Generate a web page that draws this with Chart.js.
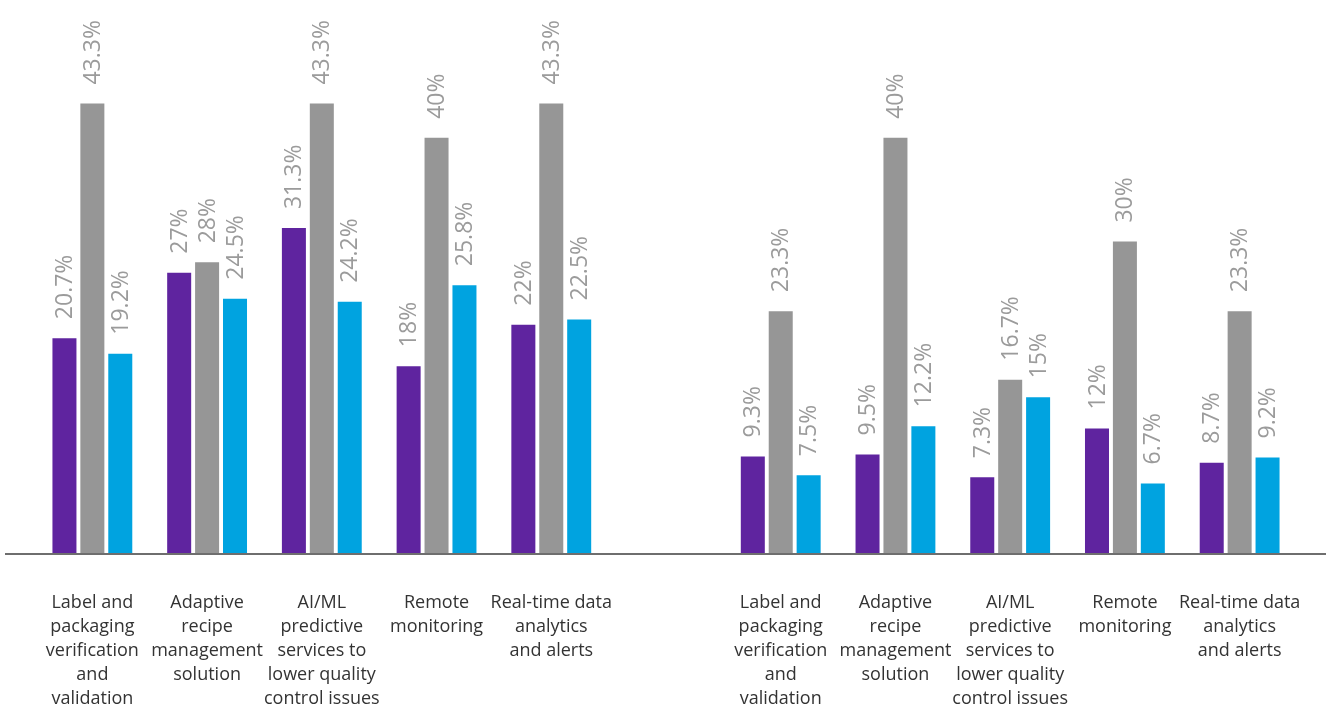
<!DOCTYPE html>
<html>
<head>
<meta charset="utf-8">
<script src="https://cdn.jsdelivr.net/npm/chart.js@4/dist/chart.umd.min.js"></script>
<style>
  html, body { margin: 0; padding: 0; background: #fff; }
  #wrap { width: 1330px; height: 707px; position: relative; }
</style>
</head>
<body>
<div id="wrap"><canvas id="surveyChart"></canvas></div>
<script>
// categories (two survey groups, separated by an empty slot)
const solutions = [
    ['Label and', 'packaging', 'verification', 'and', 'validation'],
    ['Adaptive', 'recipe', 'management', 'solution'],
    ['AI/ML', 'predictive', 'services to', 'lower quality', 'control issues'],
    ['Remote', 'monitoring'],
    ['Real-time data', 'analytics', 'and alerts']
];
const categories = [...solutions, '', ...solutions];

// series values (%), null = gap slot
const purpleValues = [20.7, 27, 31.3, 18, 22, null, 9.3, 9.5, 7.3, 12, 8.7];
const grayValues   = [43.3, 28, 43.3, 40, 43.3, null, 23.3, 40, 16.7, 30, 23.3];
const blueValues   = [19.2, 24.5, 24.2, 25.8, 22.5, null, 7.5, 12.2, 15, 6.7, 9.2];

const colors = {
    purple: '#5f249f',
    gray: '#969696',
    blue: '#00a3e0',
    label: '#9b9b9b',
    text: '#333333',
    axis: '#6e6e6e'
};

// rotated value labels above each bar
const valueLabels = {
    id: 'valueLabels',
    afterDatasetsDraw(chart) {
        const ctx = chart.ctx;
        ctx.save();
        ctx.fillStyle = colors.label;
        ctx.font = '23px "Open Sans"';
        ctx.textAlign = 'left';
        ctx.textBaseline = 'middle';
        chart.data.datasets.forEach((ds, i) => {
            const meta = chart.getDatasetMeta(i);
            meta.data.forEach((bar, j) => {
                const v = ds.data[j];
                if (v === null || v === undefined) return;
                ctx.save();
                ctx.translate(bar.x + 1, bar.y - 19);
                ctx.rotate(-Math.PI / 2);
                ctx.fillText(v + '%', 0, 0);
                ctx.restore();
            });
        });
        ctx.restore();
    }
};

// baseline running across the full width
const baseLine = {
    id: 'baseLine',
    afterDatasetsDraw(chart) {
        const ctx = chart.ctx;
        const y = chart.scales.y.getPixelForValue(0);
        ctx.save();
        ctx.strokeStyle = colors.axis;
        ctx.lineWidth = 2;
        ctx.beginPath();
        ctx.moveTo(5, y + 1);
        ctx.lineTo(1326, y + 1);
        ctx.stroke();
        ctx.restore();
    }
};

const barOpts = { categoryPercentage: 0.73, barPercentage: 0.86, borderWidth: 0 };

new Chart(document.getElementById('surveyChart'), {
    type: 'bar',
    data: {
        labels: categories,
        datasets: [
            { data: purpleValues, backgroundColor: colors.purple, ...barOpts },
            { data: grayValues, backgroundColor: colors.gray, ...barOpts },
            { data: blueValues, backgroundColor: colors.blue, ...barOpts }
        ]
    },
    options: {
        responsive: true,
        maintainAspectRatio: false,
        animation: false,
        layout: { padding: { top: 34, left: 35, right: 33, bottom: 0 } },
        plugins: {
            legend: { display: false },
            tooltip: { enabled: false }
        },
        scales: {
            x: {
                // tick marks are hidden; tickLength only pushes the labels down
                grid: { display: false, drawTicks: true, tickLength: 38 },
                border: { display: false },
                ticks: {
                    autoSkip: false,
                    minRotation: 0,
                    maxRotation: 0,
                    padding: 0,
                    color: colors.text,
                    font: { family: '"Open Sans"', size: 18, lineHeight: 1.333 }
                },
                afterFit(scale) {
                    scale.height = 154;
                }
            },
            y: {
                display: false,
                min: 0,
                max: 50
            }
        }
    },
    plugins: [valueLabels, baseLine]
});
</script>
</body>
</html>
